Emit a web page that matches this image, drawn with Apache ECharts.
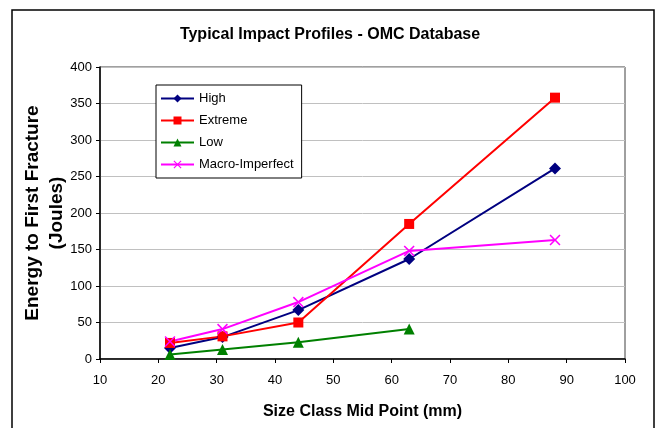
<!DOCTYPE html>
<html>
<head>
	<meta charset="utf-8" />
	<title>Typical Impact Profiles</title>
	<script type="text/javascript" src="https://cdn.jsdelivr.net/npm/echarts@6/dist/echarts.min.js"></script>
	<style type="text/css">
		html, body { margin: 0; padding: 0; background: #fff; }
		#container { width: 660px; height: 428px; }
	</style>
</head>
<body>
<div id="container"></div>
<script type="text/javascript">
	// size class mid points (mm)
	var sizeClass = [22, 31, 44, 63, 88];
	// energy to first fracture (Joules)
	var high = [15, 30, 67, 137, 261];
	var extreme = [22, 31, 50, 185, 358];
	var low = [6, 13, 23, 41];
	var macro = [24, 41, 78, 148, 163];

	function pairs(vals){
		var out = [];
		for(var i = 0; i < vals.length; i++){
			out.push([sizeClass[i], vals[i]]);
		}
		return out;
	}

	var font = 'Arial, "Liberation Sans", sans-serif';
	var crossPath = 'path://M0,1L1,0L5,4L9,0L10,1L6,5L10,9L9,10L5,6L1,10L0,9L4,5Z';

	var chart = echarts.init(document.getElementById('container'));

	var options = {
		backgroundColor: '#fff',
		animation: false,
		title: {
			text: 'Typical Impact Profiles - OMC Database',
			left: 'center',
			top: 22,
			textStyle: { fontFamily: font, fontSize: 16, fontWeight: 'bold', color: '#000' }
		},
		graphic: [{
			type: 'rect',
			shape: { x: 12, y: 10, width: 642, height: 440 },
			style: { fill: null, stroke: '#000', lineWidth: 1.5 },
			silent: true
		}],
		legend: {
			orient: 'vertical',
			left: 156,
			top: 85,
			itemWidth: 33,
			itemHeight: 10,
			itemGap: 9,
			padding: [7, 8, 7, 4],
			borderColor: '#000',
			borderWidth: 1,
			backgroundColor: '#fff',
			textStyle: { fontFamily: font, fontSize: 13, color: '#000' },
			data: ['High', 'Extreme', 'Low', 'Macro-Imperfect']
		},
		grid: {
			left: 100,
			right: 35,
			top: 67,
			bottom: 69,
			outerBoundsMode: 'none',
			show: true,
			borderColor: '#404040',
			borderWidth: 1
		},
		xAxis: {
			type: 'value',
			min: 10,
			max: 100,
			interval: 10,
			name: 'Size Class Mid Point (mm)',
			nameLocation: 'middle',
			nameGap: 45,
			nameTextStyle: { fontFamily: font, fontSize: 16, fontWeight: 'bold', color: '#000' },
			axisLine: { lineStyle: { color: '#000', width: 1.5 } },
			axisTick: { show: true, length: 4, lineStyle: { color: '#000' } },
			axisLabel: { fontFamily: font, fontSize: 13, color: '#000', margin: 15 },
			splitLine: { show: false }
		},
		yAxis: {
			type: 'value',
			min: 0,
			max: 400,
			interval: 50,
			name: 'Energy to First Fracture\n(Joules)',
			nameLocation: 'middle',
			nameGap: 31,
			nameMoveOverlap: false,
			nameTextStyle: { fontFamily: font, fontSize: 19, fontWeight: 'bold', color: '#000', lineHeight: 24 },
			axisLine: { show: true, lineStyle: { color: '#000', width: 1.5 } },
			axisTick: { show: true, length: 4, lineStyle: { color: '#000' } },
			axisLabel: { fontFamily: font, fontSize: 13, color: '#000', margin: 8 },
			splitLine: { show: true, lineStyle: { color: '#c0c0c0', width: 1 } }
		},
		series: [
			{
				name: 'High',
				type: 'line',
				data: pairs(high),
				symbol: 'diamond',
				symbolSize: 12,
				color: '#000080',
				lineStyle: { width: 2, color: '#000080' }
			},
			{
				name: 'Extreme',
				type: 'line',
				data: pairs(extreme),
				symbol: 'rect',
				symbolSize: 10,
				color: '#ff0000',
				lineStyle: { width: 2, color: '#ff0000' }
			},
			{
				name: 'Low',
				type: 'line',
				data: pairs(low),
				symbol: 'triangle',
				symbolSize: 11,
				color: '#008000',
				lineStyle: { width: 2, color: '#008000' }
			},
			{
				name: 'Macro-Imperfect',
				type: 'line',
				data: pairs(macro),
				symbol: crossPath,
				symbolSize: 11,
				color: '#ff00ff',
				lineStyle: { width: 2, color: '#ff00ff' }
			}
		]
	};

	chart.setOption(options);
</script>
</body>
</html>
